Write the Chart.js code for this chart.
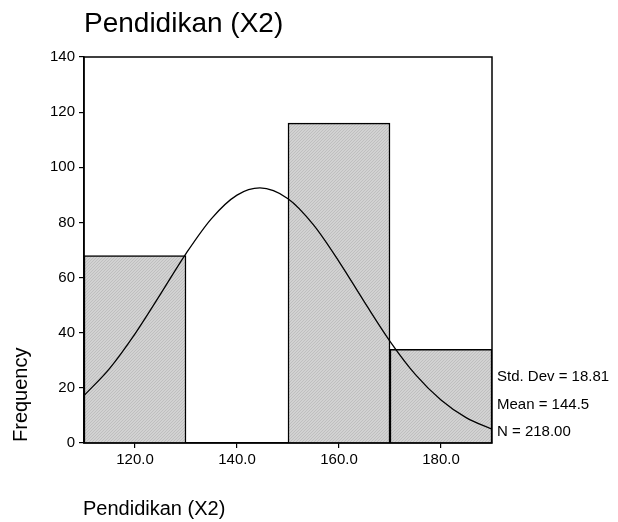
<!DOCTYPE html>
<html>
<head>
<meta charset="utf-8">
<script src="https://cdn.jsdelivr.net/npm/chart.js@4"></script>
<style>
  html, body { margin: 0; padding: 0; background: #fff; }
  #wrap { width: 618px; height: 522px; }
</style>
</head>
<body>
<div id="wrap"><canvas id="hist" width="618" height="522"></canvas></div>
<script>
// ---------- data ----------
const binCenters = [120, 140, 160, 180];
const binCounts = [68, 0, 116, 34];
const curveX = [110, 115, 120, 125, 130, 135, 140, 144.5, 150, 155, 160, 165, 170, 175, 180, 185, 190];
const curveY = [17.2, 27.0, 39.6, 54.0, 68.7, 81.4, 89.9, 92.5, 88.6, 79.1, 65.8, 51.1, 36.9, 24.8, 15.6, 9.1, 5.0];
const xTicks = [120, 140, 160, 180];
const statLines = ["Std. Dev = 18.81", "Mean = 144.5", "N = 218.00"];
const titleText = "Pendidikan (X2)";
const yTitle = "Frequency";
const FONT = "'Liberation Sans', Arial, sans-serif";

// ---------- hatch fill ----------
const makeHatch = () => {
  const c = document.createElement("canvas");
  c.width = 3; c.height = 3;
  const g = c.getContext("2d");
  g.fillStyle = "#d2d2d2";
  g.fillRect(0, 0, 3, 3);
  g.fillStyle = "#bfbfbf";
  for (let i = 0; i < 3; i++) g.fillRect(2 - i, i, 1, 1); // "/" diagonal
  return g.createPattern(c, "repeat");
};

// ---------- frame + texts ----------
const decor = {
  id: "decor",
  afterDraw(chart) {
    const { ctx, chartArea: a } = chart;
    ctx.save();
    ctx.strokeStyle = "#000";
    ctx.lineWidth = 1.5;
    ctx.strokeRect(a.left, a.top, a.right - a.left, a.bottom - a.top);

    ctx.fillStyle = "#000";
    ctx.textAlign = "left";
    ctx.textBaseline = "alphabetic";
    ctx.font = `28px ${FONT}`;
    ctx.fillText(titleText, 84, 32);

    ctx.font = `20px ${FONT}`;
    ctx.fillText(titleText, 83, 515);

    ctx.save();
    ctx.translate(27, 442);
    ctx.rotate(-Math.PI / 2);
    ctx.fillText(yTitle, 0, 0);
    ctx.restore();

    ctx.font = `15px ${FONT}`;
    ctx.textBaseline = "middle";
    const ys = [377, 405, 432];
    statLines.forEach((t, i) => ctx.fillText(t, 497, ys[i]));
    ctx.restore();
  }
};

new Chart(document.getElementById("hist").getContext("2d"), {
  data: {
    datasets: [
      {
        type: "bar",
        data: binCenters.map((x, i) => ({ x, y: binCounts[i] })),
        backgroundColor: makeHatch(),
        borderColor: "#000",
        borderWidth: 1.5,
        barPercentage: 1,
        categoryPercentage: 1,
        order: 2
      },
      {
        type: "line",
        data: curveX.map((x, i) => ({ x, y: curveY[i] })),
        borderColor: "#000",
        borderWidth: 1.3,
        pointRadius: 0,
        tension: 0.4,
        cubicInterpolationMode: "monotone",
        fill: false,
        order: 1
      }
    ]
  },
  options: {
    responsive: false,
    animation: false,
    layout: { padding: { top: 57, right: 126, bottom: 49, left: 0 } },
    plugins: { legend: { display: false }, tooltip: { enabled: false } },
    scales: {
      x: {
        type: "linear",
        min: 110, max: 190,
        offset: false,
        afterBuildTicks: (s) => { s.ticks = xTicks.map(v => ({ value: v })); },
        afterFit: (s) => { s.height = 30; },
        grid: { drawOnChartArea: false, offset: false, tickLength: 5, color: "#000", lineWidth: 1.2 },
        border: { display: true, color: "#000", width: 1.5 },
        ticks: {
          color: "#000", padding: 3, maxRotation: 0,
          font: { family: FONT, size: 15 },
          callback: (v) => Number(v).toFixed(1)
        }
      },
      y: {
        min: 0, max: 140,
        afterFit: (s) => { s.width = 84; },
        grid: { drawOnChartArea: false, tickLength: 5, color: "#000", lineWidth: 1.2 },
        border: { display: true, color: "#000", width: 1.5 },
        ticks: {
          stepSize: 20, color: "#000", padding: 4,
          font: { family: FONT, size: 15 }
        }
      }
    }
  },
  plugins: [decor]
});
</script>
</body>
</html>
